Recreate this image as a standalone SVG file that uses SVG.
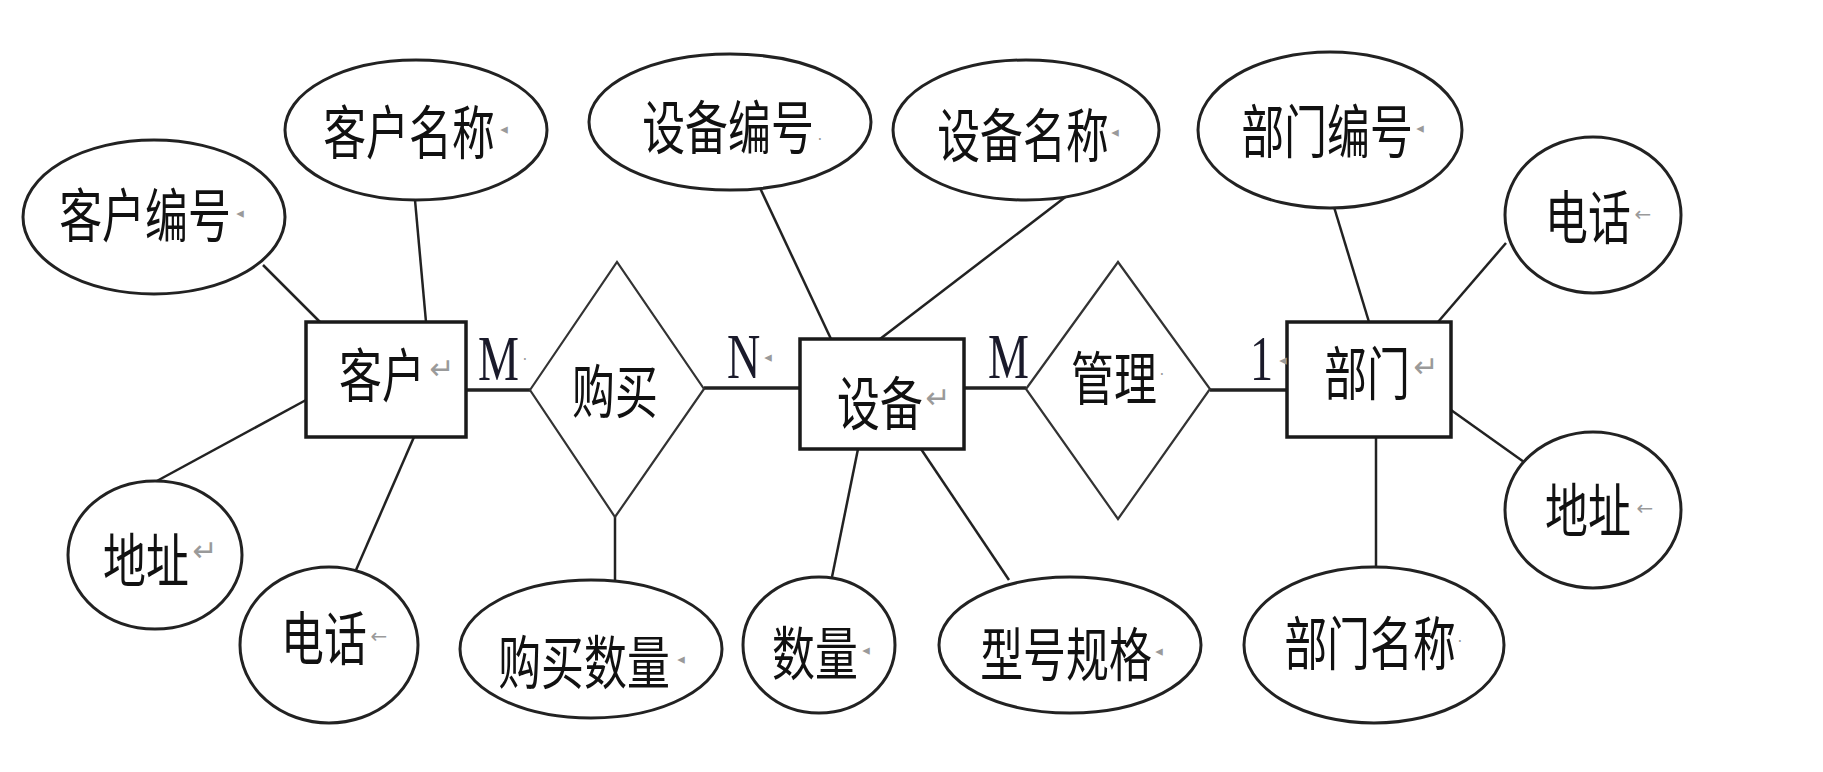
<svg xmlns="http://www.w3.org/2000/svg" width="1823" height="772" viewBox="0 0 1823 772">
<style>
.bg{fill:#fff}
.e{fill:#fff;stroke:#222;stroke-width:3}
.r{fill:#fff;stroke:#1a1a1a;stroke-width:3.5}
.d{fill:none;stroke:#333;stroke-width:2.2}
.c line{stroke:#222;stroke-width:2.5}
.c line.h{stroke-width:3.5}
.t{font-family:"Noto Sans CJK SC","Noto Sans CJK JP",sans-serif;font-size:58px;text-anchor:middle;dominant-baseline:central;fill:#111}
.pm{font-family:"DejaVu Sans",sans-serif;fill:#9a9a9a;text-anchor:middle;dominant-baseline:central}
.s{font-size:15px}
.a{font-size:30px}
.w{font-size:20px}
.card{font-family:"Liberation Serif",serif;font-size:64px;fill:#1a1a2a}
</style>
<rect class="bg" x="0" y="0" width="1823" height="772"/>
<g id="connectors" class="c">
<line x1="263" y1="265" x2="320" y2="322"/>
<line x1="415" y1="200" x2="426" y2="322"/>
<line x1="306" y1="400" x2="155" y2="482"/>
<line x1="414" y1="437" x2="356" y2="570"/>
<line class="h" x1="466" y1="390" x2="530" y2="390"/>
<line class="h" x1="704" y1="388" x2="800" y2="388"/>
<line x1="615" y1="517" x2="615" y2="580"/>
<line x1="760" y1="188" x2="831" y2="339"/>
<line x1="1068" y1="195" x2="880" y2="339"/>
<line x1="858" y1="449" x2="832" y2="577"/>
<line x1="921" y1="449" x2="1009" y2="580"/>
<line class="h" x1="964" y1="388" x2="1026" y2="388"/>
<line class="h" x1="1210" y1="390" x2="1287" y2="390"/>
<line x1="1334" y1="207" x2="1369" y2="322"/>
<line x1="1506" y1="243" x2="1438" y2="322"/>
<line x1="1451" y1="410" x2="1524" y2="462"/>
<line x1="1376" y1="437" x2="1376" y2="567"/>
</g>
<g id="kehu">
<rect class="r" x="306" y="322" width="160" height="115"/>
<text class="t" transform="translate(382,372) scale(0.74,1)">客户</text>
<text class="pm a" x="442" y="368">↵</text>
</g>
<g id="kehu-bianhao">
<ellipse class="e" cx="154" cy="217" rx="131" ry="77"/>
<text class="t" transform="translate(145,212) scale(0.74,1)">客户编号</text>
<text class="pm s" x="240" y="213">◂</text>
</g>
<g id="kehu-mingcheng">
<ellipse class="e" cx="416" cy="130" rx="131" ry="70"/>
<text class="t" transform="translate(409,129) scale(0.74,1)">客户名称</text>
<text class="pm s" x="504" y="129">◂</text>
</g>
<g id="kehu-dizhi">
<ellipse class="e" cx="155" cy="555" rx="87" ry="74"/>
<text class="t" transform="translate(146,557) scale(0.74,1)">地址</text>
<text class="pm a" x="205" y="550">↵</text>
</g>
<g id="kehu-dianhua">
<ellipse class="e" cx="329" cy="645" rx="89" ry="78"/>
<text class="t" transform="translate(324,635) scale(0.74,1)">电话</text>
<text class="pm w" x="379" y="636">←</text>
</g>
<g id="goumai">
<polygon class="d" points="530,390 617,262 704,389 615,517"/>
<text class="t" transform="translate(615,388) scale(0.74,1)">购买</text>
</g>
<g id="goumai-shuliang">
<ellipse class="e" cx="591" cy="649" rx="131" ry="69"/>
<text class="t" transform="translate(584,659) scale(0.74,1)">购买数量</text>
<text class="pm s" x="681" y="659">◂</text>
</g>
<g id="shebei">
<rect class="r" x="800" y="339" width="164" height="110"/>
<text class="t" transform="translate(880,400) scale(0.74,1)">设备</text>
<text class="pm a" x="938" y="397">↵</text>
</g>
<g id="shebei-bianhao">
<ellipse class="e" cx="730" cy="122" rx="141" ry="68"/>
<text class="t" transform="translate(728,124) scale(0.74,1)">设备编号</text>
<text class="pm s" x="820" y="140">·</text>
</g>
<g id="shebei-mingcheng">
<ellipse class="e" cx="1026" cy="130" rx="133" ry="70"/>
<text class="t" transform="translate(1023,132) scale(0.74,1)">设备名称</text>
<text class="pm s" x="1115" y="132">◂</text>
</g>
<g id="shebei-shuliang">
<ellipse class="e" cx="819" cy="645" rx="76" ry="68"/>
<text class="t" transform="translate(815,650) scale(0.74,1)">数量</text>
<text class="pm s" x="866" y="650">◂</text>
</g>
<g id="xinghao-guige">
<ellipse class="e" cx="1070" cy="645" rx="131" ry="68"/>
<text class="t" transform="translate(1066,651) scale(0.74,1)">型号规格</text>
<text class="pm s" x="1159" y="651">◂</text>
</g>
<g id="guanli">
<polygon class="d" points="1026,389 1118,262 1210,389 1118,519"/>
<text class="t" transform="translate(1114,375) scale(0.74,1)">管理</text>
<text class="pm s" x="1162" y="375">·</text>
</g>
<g id="bumen">
<rect class="r" x="1287" y="322" width="164" height="115"/>
<text class="t" transform="translate(1367,370) scale(0.74,1)">部门</text>
<text class="pm a" x="1426" y="366">↵</text>
</g>
<g id="bumen-bianhao">
<ellipse class="e" cx="1330" cy="130" rx="132" ry="78"/>
<text class="t" transform="translate(1327,128) scale(0.74,1)">部门编号</text>
<text class="pm s" x="1420" y="128">◂</text>
</g>
<g id="bumen-dianhua">
<ellipse class="e" cx="1593" cy="215" rx="88" ry="78"/>
<text class="t" transform="translate(1588,214) scale(0.74,1)">电话</text>
<text class="pm w" x="1643" y="214">←</text>
</g>
<g id="bumen-dizhi">
<ellipse class="e" cx="1593" cy="510" rx="88" ry="78"/>
<text class="t" transform="translate(1588,507) scale(0.74,1)">地址</text>
<text class="pm w" x="1645" y="508">←</text>
</g>
<g id="bumen-mingcheng">
<ellipse class="e" cx="1374" cy="645" rx="130" ry="78"/>
<text class="t" transform="translate(1370,640) scale(0.74,1)">部门名称</text>
<text class="pm s" x="1460" y="642">·</text>
</g>
<g id="cardinality">
<text class="card" transform="translate(478,380) scale(0.72,1)">M</text>
<text class="pm s" x="525" y="360">·</text>
<text class="card" transform="translate(727,378) scale(0.72,1)">N</text>
<text class="pm s" x="768" y="357">◂</text>
<text class="card" transform="translate(1250,380) scale(0.72,1)">1</text>
<text class="pm s" x="1283" y="360">◂</text>
<text class="card" transform="translate(988,378) scale(0.72,1)">M</text>
</g>
</svg>
